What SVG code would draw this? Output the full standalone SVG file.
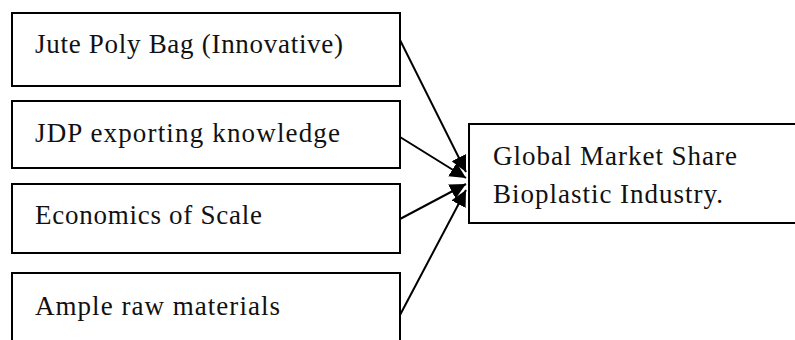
<svg xmlns="http://www.w3.org/2000/svg" width="795" height="340" viewBox="0 0 795 340">
<style>
.box{fill:#fff;stroke:#000;stroke-width:2}
.t{font-family:"Liberation Serif","DejaVu Serif",serif;font-size:27px;fill:#111}
.c{stroke:#000;stroke-width:2;fill:none;marker-end:url(#ah)}
</style>
<defs>
<marker id="ah" viewBox="0 0 10 10" refX="10" refY="5" markerWidth="8" markerHeight="8" orient="auto" markerUnits="strokeWidth">
<path d="M0,0 L10,5 L0,10 z" fill="#000"/>
</marker>
</defs>
<rect width="795" height="340" fill="#fff"/>
<g id="n1"><rect class="box" x="12" y="13" width="388" height="73"/><text class="t" x="35" y="53" textLength="308" lengthAdjust="spacing">Jute Poly Bag (Innovative)</text></g>
<g id="n2"><rect class="box" x="12" y="101" width="388" height="67"/><text class="t" x="35" y="142" textLength="305" lengthAdjust="spacing">JDP exporting knowledge</text></g>
<g id="n3"><rect class="box" x="12" y="184" width="388" height="69"/><text class="t" x="35" y="224" textLength="227" lengthAdjust="spacing">Economics of Scale</text></g>
<g id="n4"><rect class="box" x="12" y="273" width="388" height="80"/><text class="t" x="35" y="315" textLength="245" lengthAdjust="spacing">Ample raw materials</text></g>
<g id="n5"><rect class="box" x="469" y="124" width="340" height="99"/><text class="t" x="493" y="165" textLength="244" lengthAdjust="spacing">Global Market Share</text><text class="t" x="493" y="203" textLength="230" lengthAdjust="spacing">Bioplastic Industry.</text></g>
<g id="connectors">
<line class="c" x1="400" y1="40" x2="466" y2="172"/>
<line class="c" x1="400" y1="137" x2="466" y2="178"/>
<line class="c" x1="400" y1="219" x2="466" y2="184"/>
<line class="c" x1="400" y1="315" x2="466" y2="190"/>
</g>
</svg>
